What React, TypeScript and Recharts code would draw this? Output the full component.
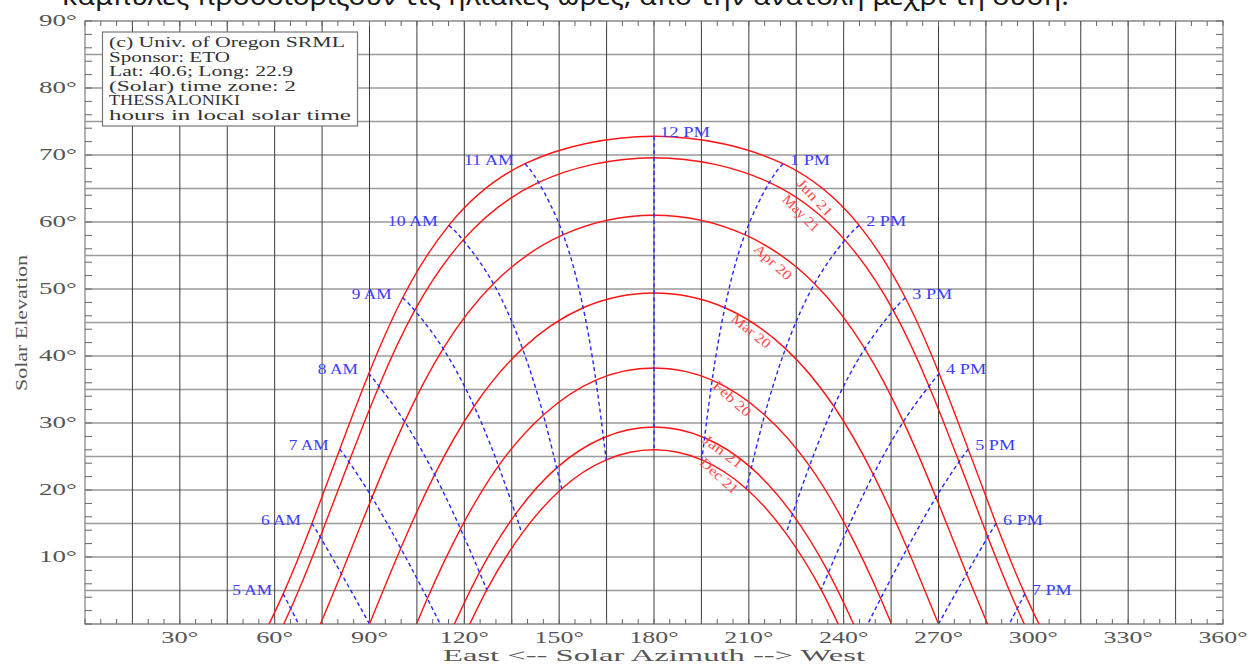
import React from "react";
import { LineChart, Line, XAxis, YAxis, ReferenceLine, ReferenceArea, ReferenceDot } from "recharts";

type Pt = { h: number; az: number; alt: number };

// sun position per date, hour of local solar time -> azimuth / elevation (deg)
const JUN_21: Pt[] = [
  { h: 4, az: 52.9, alt: -5.1 }, { h: 5, az: 62.7, alt: 4.5 }, { h: 6, az: 71.8, alt: 15.0 },
  { h: 7, az: 80.6, alt: 26.1 }, { h: 8, az: 89.8, alt: 37.4 }, { h: 9, az: 100.5, alt: 48.7 },
  { h: 10, az: 115.1, alt: 59.5 }, { h: 11, az: 139.2, alt: 68.7 }, { h: 12, az: 180, alt: 72.8 },
  { h: 13, az: 220.8, alt: 68.7 }, { h: 14, az: 244.9, alt: 59.5 }, { h: 15, az: 259.5, alt: 48.7 },
  { h: 16, az: 270.2, alt: 37.4 }, { h: 17, az: 279.4, alt: 26.1 }, { h: 18, az: 288.2, alt: 15.0 },
  { h: 19, az: 297.3, alt: 4.5 }, { h: 20, az: 307.1, alt: -5.1 },
];
const MAY_21: Pt[] = [
  { h: 4, az: 55.1, alt: -7.6 }, { h: 5, az: 65.1, alt: 2.3 }, { h: 6, az: 74.4, alt: 13.0 },
  { h: 7, az: 83.5, alt: 24.2 }, { h: 8, az: 93.0, alt: 35.5 }, { h: 9, az: 104.3, alt: 46.8 },
  { h: 10, az: 119.6, alt: 57.3 }, { h: 11, az: 143.5, alt: 65.9 }, { h: 12, az: 180, alt: 69.6 },
  { h: 13, az: 216.5, alt: 65.9 }, { h: 14, az: 240.4, alt: 57.3 }, { h: 15, az: 255.7, alt: 46.8 },
  { h: 16, az: 267.0, alt: 35.5 }, { h: 17, az: 276.5, alt: 24.2 }, { h: 18, az: 285.6, alt: 13.0 },
  { h: 19, az: 294.9, alt: 2.3 }, { h: 20, az: 304.9, alt: -7.6 },
];
const APR_20: Pt[] = [
  { h: 5, az: 71.4, alt: -3.5 }, { h: 6, az: 81.1, alt: 7.5 }, { h: 7, az: 90.8, alt: 18.9 },
  { h: 8, az: 101.1, alt: 30.2 }, { h: 9, az: 113.3, alt: 41.1 }, { h: 10, az: 129.2, alt: 50.8 },
  { h: 11, az: 151.3, alt: 58.1 }, { h: 12, az: 180, alt: 61.0 }, { h: 13, az: 208.7, alt: 58.1 },
  { h: 14, az: 230.8, alt: 50.8 }, { h: 15, az: 246.7, alt: 41.1 }, { h: 16, az: 258.9, alt: 30.2 },
  { h: 17, az: 269.2, alt: 18.9 }, { h: 18, az: 278.9, alt: 7.5 }, { h: 19, az: 288.6, alt: -3.5 },
];
const MAR_20: Pt[] = [
  { h: 5, az: 80.1, alt: -11.3 }, { h: 6, az: 90.0, alt: 0.0 }, { h: 7, az: 99.9, alt: 11.3 },
  { h: 8, az: 110.6, alt: 22.3 }, { h: 9, az: 123.1, alt: 32.5 }, { h: 10, az: 138.4, alt: 41.1 },
  { h: 11, az: 157.6, alt: 47.2 }, { h: 12, az: 180, alt: 49.4 }, { h: 13, az: 202.4, alt: 47.2 },
  { h: 14, az: 221.6, alt: 41.1 }, { h: 15, az: 236.9, alt: 32.5 }, { h: 16, az: 249.4, alt: 22.3 },
  { h: 17, az: 260.1, alt: 11.3 }, { h: 18, az: 270.0, alt: 0.0 }, { h: 19, az: 279.9, alt: -11.3 },
];
const FEB_20: Pt[] = [
  { h: 6, az: 98.6, alt: -7.3 }, { h: 7, az: 108.3, alt: 3.8 }, { h: 8, az: 118.8, alt: 14.2 },
  { h: 9, az: 130.8, alt: 23.6 }, { h: 10, az: 145.0, alt: 31.2 }, { h: 11, az: 161.6, alt: 36.4 },
  { h: 12, az: 180, alt: 38.2 }, { h: 13, az: 198.4, alt: 36.4 }, { h: 14, az: 215.0, alt: 31.2 },
  { h: 15, az: 229.2, alt: 23.6 }, { h: 16, az: 241.2, alt: 14.2 }, { h: 17, az: 251.7, alt: 3.8 },
  { h: 18, az: 261.4, alt: -7.3 },
];
const JAN_21: Pt[] = [
  { h: 7, az: 114.7, alt: -2.2 }, { h: 8, az: 124.8, alt: 7.7 }, { h: 9, az: 136.2, alt: 16.4 },
  { h: 10, az: 149.2, alt: 23.3 }, { h: 11, az: 164.0, alt: 27.8 }, { h: 12, az: 180, alt: 29.4 },
  { h: 13, az: 196.0, alt: 27.8 }, { h: 14, az: 210.8, alt: 23.3 }, { h: 15, az: 223.8, alt: 16.4 },
  { h: 16, az: 235.2, alt: 7.7 }, { h: 17, az: 245.3, alt: -2.2 },
];
const DEC_21: Pt[] = [
  { h: 7, az: 117.3, alt: -4.5 }, { h: 8, az: 127.1, alt: 5.1 }, { h: 9, az: 138.2, alt: 13.5 },
  { h: 10, az: 150.8, alt: 20.2 }, { h: 11, az: 164.9, alt: 24.5 }, { h: 12, az: 180, alt: 26.0 },
  { h: 13, az: 195.1, alt: 24.5 }, { h: 14, az: 209.2, alt: 20.2 }, { h: 15, az: 221.8, alt: 13.5 },
  { h: 16, az: 232.9, alt: 5.1 }, { h: 17, az: 242.7, alt: -4.5 },
];

const DATE_SERIES = [JUN_21, MAY_21, APR_20, MAR_20, FEB_20, JAN_21, DEC_21];
const DATE_NAMES = ["Jun 21", "May 21", "Apr 20", "Mar 20", "Feb 20", "Jan 21", "Dec 21"];
// where each date name sits along its curve: [az, alt, rotation]
const DATE_LABEL_AT = [
  [230.9, 63.6, 47], [226.5, 61.3, 45], [217.6, 54.0, 42], [210.7, 43.7, 39],
  [204.7, 33.6, 42], [201.8, 25.7, 37], [200.6, 22.1, 42],
];

const HOURS = [5, 6, 7, 8, 9, 10, 11, 12, 13, 14, 15, 16, 17, 18, 19];
const HOUR_NAMES = ["5 AM", "6 AM", "7 AM", "8 AM", "9 AM", "10 AM", "11 AM", "12 PM",
  "1 PM", "2 PM", "3 PM", "4 PM", "5 PM", "6 PM", "7 PM"];

const AZ_LABELS = [30, 60, 90, 120, 150, 180, 210, 240, 270, 300, 330, 360];
const ALT_LABELS = [10, 20, 30, 40, 50, 60, 70, 80, 90];
const AZ_GRID = [15, 30, 45, 60, 75, 90, 105, 120, 135, 150, 165, 180, 195, 210, 225, 240, 255, 270, 285, 300, 315, 330, 345];
const ALT_GRID = [5, 10, 15, 20, 25, 30, 35, 40, 45, 50, 55, 60, 65, 70, 75, 80, 85];
const AZ_TICKS = Array.from({ length: 73 }, (_, i) => i * 5);
const ALT_TICKS = Array.from({ length: 46 }, (_, i) => i * 2);

const INFO_LINES = [
  ["(c) Univ. of Oregon SRML", 236],
  ["Sponsor: ETO", 121],
  ["Lat: 40.6; Long: 22.9", 184],
  ["(Solar) time zone: 2", 187],
  ["THESSALONIKI", 131],
  ["hours in local solar time", 242],
];

const W = 1255;
const H = 664;
const PLOT = { left: 85, right: 1223, top: 21, bottom: 624 };
const FONT = "'Liberation Serif', serif";

function AzTick(props: any) {
  const { x, payload } = props;
  const v = payload.value;
  const txt = `${v}°`;
  return (
    <g>
      <line x1={x} x2={x} y1={PLOT.bottom} y2={PLOT.bottom - 5} stroke="#666" />
      <line x1={x} x2={x} y1={PLOT.top} y2={PLOT.top + 5} stroke="#666" />
      {AZ_LABELS.includes(v) && (
        <text x={x} y={643} textAnchor="middle" fontFamily={FONT} fontSize={16} fill="#555"
          textLength={txt.length * 12.3} lengthAdjust="spacingAndGlyphs">{txt}</text>
      )}
    </g>
  );
}

function AltTick(props: any) {
  const { y, payload } = props;
  const v = payload.value;
  const txt = `${v}°`;
  return (
    <g>
      <line x1={PLOT.left} x2={PLOT.left + 7} y1={y} y2={y} stroke="#666" />
      <line x1={PLOT.right - 7} x2={PLOT.right} y1={y} y2={y} stroke="#666" />
      {ALT_LABELS.includes(v) && (
        <text x={PLOT.left - 46} y={y + 5} fontFamily={FONT} fontSize={16} fill="#555"
          textLength={txt.length * 12.6} lengthAdjust="spacingAndGlyphs">{txt}</text>
      )}
    </g>
  );
}

export default function App() {
  const hourLines = HOURS.map((h) =>
    DATE_SERIES.map((d) => d.find((p) => p.h === h)).filter((p): p is Pt => !!p)
  );

  return (
    <div style={{ position: "absolute", left: 0, top: 0, width: W, height: H, background: "#fff", overflow: "hidden" }}>
      <LineChart width={W} height={H} margin={{ top: 21, right: 32, bottom: 0, left: 25 }}>
        <XAxis type="number" dataKey="az" domain={[0, 360]} ticks={AZ_TICKS} interval={0} height={40}
          axisLine={false} tickLine={false} tick={AzTick} allowDataOverflow />
        <YAxis type="number" dataKey="alt" domain={[0, 90]} ticks={ALT_TICKS} interval={0} width={60}
          axisLine={false} tickLine={false} tick={AltTick} allowDataOverflow />
        {ALT_GRID.map((v) => (
          <ReferenceLine key={`hy${v}`} y={v} stroke="#9a9a9a" strokeWidth={1.3} />
        ))}
        {AZ_GRID.map((v) => (
          <ReferenceLine key={`vx${v}`} x={v} stroke="#3c3c3c" strokeWidth={1} />
        ))}
        <ReferenceArea x1={0} x2={360} y1={0} y2={90} fill="none" stroke="#888" strokeWidth={1.3} />
        {DATE_SERIES.map((d, i) => (
          <Line key={DATE_NAMES[i]} data={d} dataKey="alt" type="natural" stroke="#ff1414" strokeWidth={1.4}
            dot={false} activeDot={false} isAnimationActive={false} />
        ))}
        {hourLines.map((pts, i) => (
          <Line key={HOUR_NAMES[i]} data={pts} dataKey="alt" type="natural" stroke="#2626ff" strokeWidth={1.4}
            strokeDasharray="4 3" dot={false} activeDot={false} isAnimationActive={false} />
        ))}
        {hourLines.map((pts, i) => {
          const top = pts[0];
          const am = HOURS[i] < 12;
          const noon = HOURS[i] === 12;
          const name = HOUR_NAMES[i];
          return (
            <ReferenceDot key={`l${name}`} x={top.az} y={top.alt} r={0}
              shape={(p: any) => (
                <text x={am ? p.cx - 11 : p.cx + (noon ? 6 : 7)} y={p.cy + 1} textAnchor={am ? "end" : "start"}
                  fontFamily={FONT} fontSize={14} fill="#3d3dff"
                  textLength={name.length * 10} lengthAdjust="spacingAndGlyphs">{name}</text>
              )} />
          );
        })}
        {DATE_LABEL_AT.map(([az, alt, rot], i) => (
          <ReferenceDot key={`d${DATE_NAMES[i]}`} x={az} y={alt} r={0}
            shape={(p: any) => (
              <text x={p.cx} y={p.cy} textAnchor="middle" dominantBaseline="central"
                transform={`rotate(${rot} ${p.cx} ${p.cy})`} fontFamily={FONT} fontSize={14} fill="#ff4a4a"
                textLength={46} lengthAdjust="spacingAndGlyphs">{DATE_NAMES[i]}</text>
            )} />
        ))}
      </LineChart>
      <svg width={W} height={H} style={{ position: "absolute", left: 0, top: 0, pointerEvents: "none" }}>
        <text x={62} y={5} fontFamily="'Noto Sans', sans-serif" fontSize={26} fill="#1a1a1a"
          textLength={1007} lengthAdjust="spacingAndGlyphs">
          καμπύλες προσδιορίζουν τις ηλιακές ώρες, από την ανατολή μέχρι τη δύση.
        </text>
        <rect x={102.5} y={32} width={255} height={94} fill="#fff" stroke="#777" strokeWidth={1.2} />
        {INFO_LINES.map(([t, w], i) => (
          <text key={i} x={109} y={47 + i * 14.6} fontFamily={FONT} fontSize={14} fill="#333"
            textLength={w as number} lengthAdjust="spacingAndGlyphs">{t}</text>
        ))}
        <text x={27} y={323} transform="rotate(-90 27 323)" textAnchor="middle" fontFamily={FONT} fontSize={16}
          fill="#555" textLength={136} lengthAdjust="spacingAndGlyphs">Solar Elevation</text>
        <text x={654} y={661} textAnchor="middle" fontFamily={FONT} fontSize={16} fill="#555"
          textLength={422} lengthAdjust="spacingAndGlyphs">{"East <-- Solar Azimuth --> West"}</text>
      </svg>
    </div>
  );
}
